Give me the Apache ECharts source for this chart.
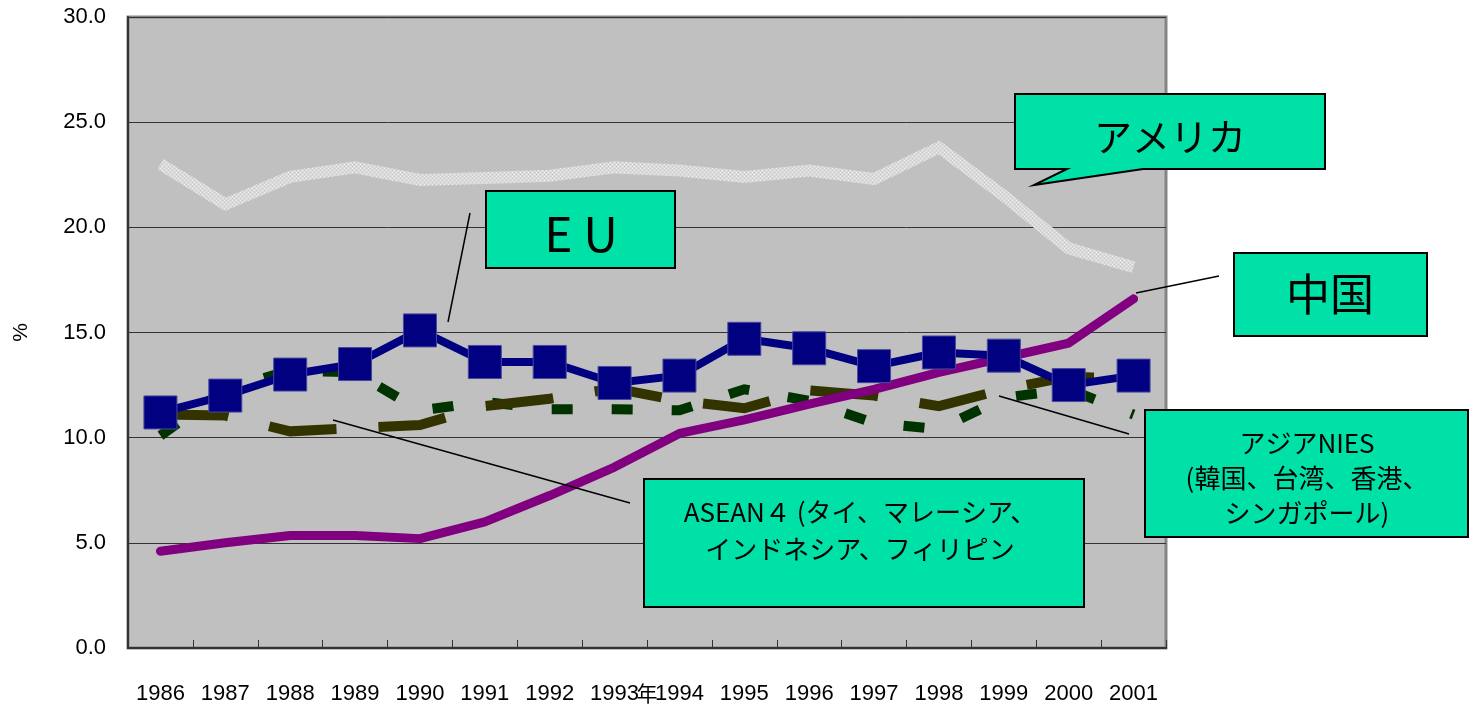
<!DOCTYPE html>
<html>
<head>
<meta charset="utf-8">
<script src="https://cdn.jsdelivr.net/npm/echarts@6/dist/echarts.min.js"></script>
<style>
  html, body { margin: 0; padding: 0; background: #ffffff; }
  #chart { width: 1472px; height: 707px; }
</style>
</head>
<body>
<div id="chart"></div>
<script>
// Share of each partner region (%), 1986-2001
const years  = ['1986','1987','1988','1989','1990','1991','1992','1993','1994','1995','1996','1997','1998','1999','2000','2001'];
const usa    = [23.0, 21.1, 22.4, 22.85, 22.25, 22.35, 22.45, 22.85, 22.7, 22.4, 22.7, 22.3, 23.8, 21.5, 19.0, 18.1];
const eu     = [11.2, 12.0, 13.0, 13.5, 15.1, 13.6, 13.6, 12.6, 12.95, 14.7, 14.25, 13.4, 14.05, 13.9, 12.5, 12.95];
const china  = [4.6, 5.0, 5.35, 5.35, 5.2, 6.0, 7.25, 8.6, 10.2, 10.85, 11.6, 12.3, 13.1, 13.8, 14.5, 16.6];
const asean4 = [11.1, 11.05, 10.3, 10.45, 10.6, 11.5, 11.85, 12.35, 11.75, 11.4, 12.25, 12.0, 11.5, 12.3, 12.9, 12.8];
const nies   = [10.1, 12.3, 13.2, 13.1, 11.3, 11.7, 11.35, 11.35, 11.3, 12.3, 11.75, 10.7, 10.4, 11.9, 12.3, 11.1];
const yTicks = { min: 0, max: 30, step: 5 };

const JP = "'Noto Sans CJK JP', sans-serif";
const LAT = "'Liberation Sans', Arial, sans-serif";

// stippled light-grey fill used for the USA line
function stipple() {
  const c = document.createElement('canvas');
  c.width = 4; c.height = 4;
  const g = c.getContext('2d');
  g.fillStyle = '#dadada'; g.fillRect(0, 0, 4, 4);
  g.fillStyle = '#eeeeee'; g.fillRect(0, 0, 1, 1); g.fillRect(2, 2, 1, 1);
  g.fillStyle = '#c8c8c8'; g.fillRect(2, 0, 1, 1); g.fillRect(0, 2, 1, 1);
  return c;
}

function box(x, y, w, h) {
  return { type: 'rect', z: 100, shape: { x: x, y: y, width: w, height: h },
           style: { fill: '#00E1A8', stroke: '#000', lineWidth: 2 } };
}
function label(x, y, text, size, lh) {
  return { type: 'text', z: 101, x: x, y: y,
           style: { text: text, font: size + 'px ' + JP, fill: '#000',
                    align: 'center', verticalAlign: 'middle', lineHeight: lh || size } };
}
function leader(x1, y1, x2, y2) {
  return { type: 'line', z: 100, shape: { x1: x1, y1: y1, x2: x2, y2: y2 },
           style: { stroke: '#000', lineWidth: 1.5 } };
}

const chart = echarts.init(document.getElementById('chart'));
chart.setOption({
  animation: false,
  backgroundColor: '#ffffff',
  grid: {
    left: 128, right: 306, top: 17, bottom: 59,
    show: true, backgroundColor: '#C0C0C0', borderColor: '#858585', borderWidth: 3,
    outerBoundsMode: 'none'
  },
  xAxis: {
    type: 'category', data: years, boundaryGap: true,
    axisLine: { lineStyle: { color: '#333', width: 2 } },
    axisTick: { show: true, inside: true, length: 8, interval: 0, lineStyle: { color: '#333' } },
    axisLabel: { interval: 0, margin: 35, fontSize: 22, color: '#000', fontFamily: LAT },
    splitLine: { show: false },
    name: '年', nameLocation: 'middle', nameGap: 35, nameMoveOverlap: false,
    nameTextStyle: { fontFamily: JP, fontSize: 21, color: '#000' }
  },
  yAxis: {
    type: 'value', min: yTicks.min, max: yTicks.max, interval: yTicks.step,
    axisLine: { show: true, lineStyle: { color: '#333', width: 2 } },
    axisTick: { show: true, inside: true, length: 8, lineStyle: { color: '#333' } },
    axisLabel: { formatter: v => v.toFixed(1), margin: 22, fontSize: 22, color: '#000', fontFamily: LAT },
    splitLine: { lineStyle: { color: '#333', width: 1 } },
    name: '%', nameLocation: 'middle', nameGap: 96, nameRotate: 90, nameMoveOverlap: false,
    nameTextStyle: { fontFamily: LAT, fontSize: 21, color: '#000' }
  },
  series: [
    { name: 'アメリカ', type: 'line', data: usa, symbol: 'none', z: 1, silent: true,
      lineStyle: { width: 12, color: { image: stipple(), repeat: 'repeat' }, join: 'miter' } },
    { name: 'アジアNIES', type: 'line', data: nies, symbol: 'none', z: 2, silent: true,
      lineStyle: { width: 10, color: '#003300', type: [21, 39], join: 'miter' } },
    { name: 'ASEAN4', type: 'line', data: asean4, symbol: 'none', z: 3, silent: true,
      lineStyle: { width: 10, color: '#333300', type: [68, 42], join: 'miter' } },
    { name: '中国', type: 'line', data: china, symbol: 'none', z: 4, silent: true,
      lineStyle: { width: 9, color: '#800080', cap: 'round', join: 'round' } },
    { name: 'EU', type: 'line', data: eu, symbol: 'rect', symbolSize: 33, z: 5, silent: true,
      itemStyle: { color: '#000080', borderColor: '#4848a0', borderWidth: 1 },
      lineStyle: { width: 8, color: '#000080', join: 'round' } }
  ],
  graphic: [
    // EU
    leader(448, 322, 470, 213),
    box(486, 191, 189, 77),
    label(581, 234, 'E U', 48),
    // USA callout with pointer
    { type: 'polygon', z: 100,
      shape: { points: [[1015, 94], [1325, 94], [1325, 169], [1143, 169], [1034, 185], [1067, 169], [1015, 169]] },
      style: { fill: '#00E1A8', stroke: '#000', lineWidth: 2 } },
    label(1170, 137, 'アメリカ', 38),
    // China
    leader(1136, 293, 1219, 276),
    box(1234, 253, 193, 83),
    label(1330, 294, '中国', 44),
    // Asian NIEs
    leader(999, 396, 1129, 434),
    box(1145, 410, 323, 127),
    label(1307, 478, 'アジアNIES\n(韓国、台湾、香港、\nシンガポール)', 26, 35),
    // ASEAN4
    leader(333, 420, 630, 503),
    box(644, 479, 440, 128),
    label(860, 531, 'ASEAN４ (タイ、マレーシア、\nインドネシア、フィリピン', 26, 37)
  ]
});
</script>
</body>
</html>
